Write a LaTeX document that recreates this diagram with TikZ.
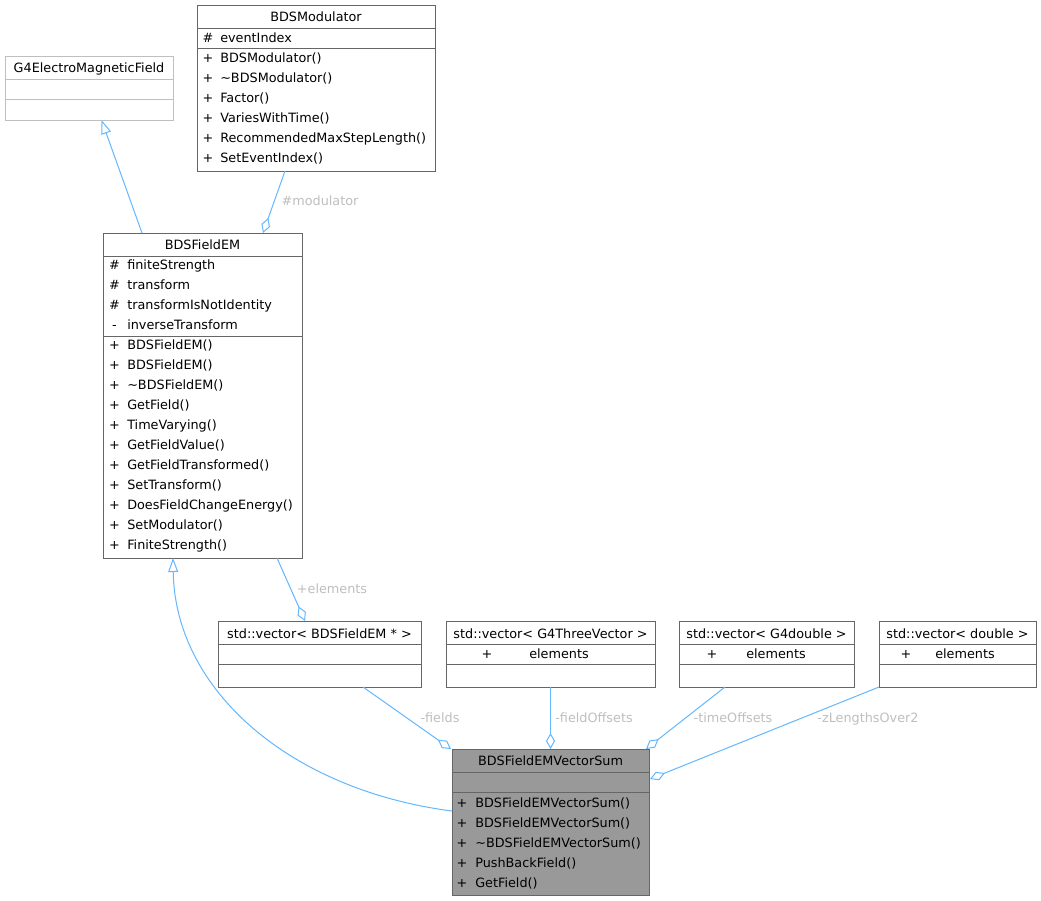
\documentclass[tikz,border=0pt]{standalone}
\usepackage{fontspec}
\setmainfont{DejaVu Sans}
\usetikzlibrary{arrows.meta,calc}
\definecolor{edgeblue}{HTML}{63B8FF}
\definecolor{lblgray}{HTML}{BFBFBF}
\definecolor{boxgray}{HTML}{666666}
\definecolor{lightbox}{HTML}{BFBFBF}
\definecolor{sumfill}{HTML}{999999}
\begin{document}
\begin{tikzpicture}[x=0.75pt,y=-0.75pt,
  font=\fontsize{9.6pt}{12pt}\selectfont,
  box/.style={draw=boxgray, line width=0.75pt, inner sep=0pt, outer sep=0pt, anchor=north west, fill=white},
  div/.style={draw=boxgray, line width=0.75pt},
  txt/.style={inner sep=0pt, text height=9.5pt, text depth=1.5pt},
  nm/.style={txt, anchor=west},
  lbl/.style={txt, text=lblgray},
  rel/.style={draw=edgeblue, line width=0.75pt},
  agg/.style={rel, -{Diamond[open,length=12pt,width=6.8pt]}},
  inh/.style={rel, -{Triangle[open,length=10.5pt,width=7.5pt]}},
]
\useasboundingbox (0,0) rectangle (1041,900);
\fill[white] (0,0) rectangle (1041,900);

% ---------- G4ElectroMagneticField
\node[box, draw=lightbox, minimum width=168*0.75pt, minimum height=64*0.75pt] (g4) at (5,56) {};
\draw[div, draw=lightbox] (5,79) -- (173,79) (5,99) -- (173,99);
\node[txt] (g4h) at (89,67.5) {G4ElectroMagneticField};

% ---------- BDSModulator
\node[box, minimum width=238*0.75pt, minimum height=166*0.75pt] (mod) at (197,5) {};
\draw[div] (197,28) -- (435,28) (197,48) -- (435,48);
\node[txt] (modh) at (316,16.5) {BDSModulator};
\node[txt] (moda0s) at (208,37) {\#};
\node[nm] (moda0) at (220,37) {eventIndex};
\foreach \t [count=\i from 0] in {BDSModulator(),\textasciitilde BDSModulator(),Factor(),VariesWithTime(),RecommendedMaxStepLength(),SetEventIndex()}{
  \node[txt] (modm\i s) at (208,57+20*\i) {+};
  \node[nm] (modm\i) at (220,57+20*\i) {\t};
}

% ---------- BDSFieldEM
\node[box, minimum width=199*0.75pt, minimum height=325*0.75pt] (fem) at (103,233) {};
\draw[div] (103,256) -- (302,256) (103,336) -- (302,336);
\node[txt] (femh) at (202.5,244.5) {BDSFieldEM};
\foreach \s/\t [count=\i from 0] in {\#/finiteStrength,\#/transform,\#/transformIsNotIdentity,-/inverseTransform}{
  \node[txt] (fema\i s) at (114.5,264+20*\i) {\s};
  \node[nm] (fema\i) at (127,264+20*\i) {\t};
}
\foreach \t [count=\i from 0] in {BDSFieldEM(),BDSFieldEM(),\textasciitilde BDSFieldEM(),GetField(),TimeVarying(),GetFieldValue(),GetFieldTransformed(),SetTransform(),DoesFieldChangeEnergy(),SetModulator(),FiniteStrength()}{
  \node[txt] (femm\i s) at (114.5,344.5+20*\i) {+};
  \node[nm] (femm\i) at (127,344.5+20*\i) {\t};
}

% ---------- std::vector boxes
\node[box, minimum width=203*0.75pt, minimum height=66*0.75pt] (vfem) at (218,621) {};
\draw[div] (218,644) -- (421,644) (218,664) -- (421,664);
\node[txt] (vfemh) at (319.5,633) {std::vector< BDSFieldEM * >};

\node[box, minimum width=209*0.75pt, minimum height=66*0.75pt] (v3) at (446,621) {};
\draw[div] (446,644) -- (655,644) (446,664) -- (655,664);
\node[txt] (v3h) at (550.5,633) {std::vector< G4ThreeVector >};
\node[txt] (v3s) at (487,653) {+};
\node[nm] (v3a) at (529,653) {elements};

\node[box, minimum width=175*0.75pt, minimum height=66*0.75pt] (vg) at (679,621) {};
\draw[div] (679,644) -- (854,644) (679,664) -- (854,664);
\node[txt] (vgh) at (766.5,633) {std::vector< G4double >};
\node[txt] (vgs) at (712,653) {+};
\node[nm] (vga) at (746,653) {elements};

\node[box, minimum width=157*0.75pt, minimum height=66*0.75pt] (vd) at (879,621) {};
\draw[div] (879,644) -- (1036,644) (879,664) -- (1036,664);
\node[txt] (vdh) at (957.5,633) {std::vector< double >};
\node[txt] (vds) at (906,653) {+};
\node[nm] (vda) at (935,653) {elements};

% ---------- BDSFieldEMVectorSum
\node[box, fill=sumfill, minimum width=197*0.75pt, minimum height=146*0.75pt] (sum) at (452,749) {};
\draw[div] (452,772) -- (649,772) (452,792) -- (649,792);
\node[txt] (sumh) at (550.5,760.5) {BDSFieldEMVectorSum};
\foreach \t [count=\i from 0] in {BDSFieldEMVectorSum(),BDSFieldEMVectorSum(),\textasciitilde BDSFieldEMVectorSum(),PushBackField(),GetField()}{
  \node[txt] (summ\i s) at (462,802+20*\i) {+};
  \node[nm] (summ\i) at (475,802+20*\i) {\t};
}

% ---------- connectors
\draw[inh] ($(fem.north west)+(39,0)$) -- ($(g4.south west)+(96.5,0)$);
\draw[agg] ($(mod.south west)+(88,0)$) -- ($(fem.north west)+(160,0)$);
\node[lbl] (lmod) at (320,200) {\#modulator};

\draw[agg] ($(fem.south west)+(174,0)$) -- ($(vfem.north west)+(87,0)$);
\node[lbl] (lel) at (332,588) {+elements};

\draw[inh] ($(sum.north west)+(0,62)$) .. controls (290,790) and (175,690) .. ($(fem.south west)+(70,0)$);

\draw[agg] ($(vfem.south west)+(145,0)$) -- ($(sum.north west)+(-1,0)$);
\node[lbl] (lf) at (440,717) {-fields};

\draw[agg] (v3.south) -- (sum.north);
\node[lbl] (lfo) at (594,717) {-fieldOffsets};

\draw[agg] ($(vg.south west)+(46,0)$) -- ($(sum.north east)+(-3,0)$);
\node[lbl] (lto) at (733,717) {-timeOffsets};

\draw[agg] (vd.south west) -- ($(sum.north east)+(1,30)$);
\node[lbl] (lz) at (868,717) {-zLengthsOver2};
\end{tikzpicture}
\end{document}
